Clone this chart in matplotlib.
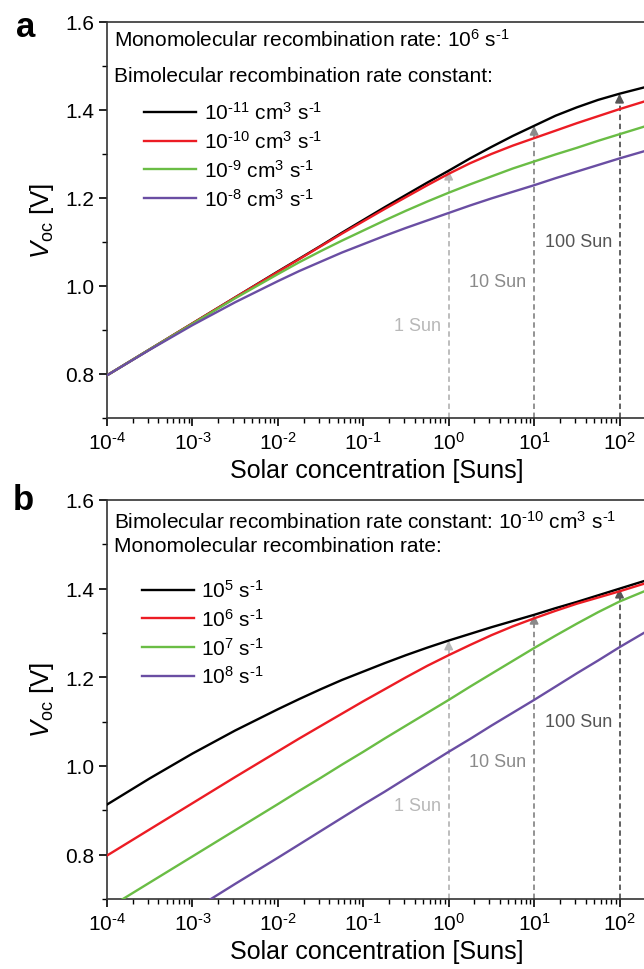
import matplotlib

matplotlib.use("Agg")
import math

import matplotlib.pyplot as plt
from matplotlib.ticker import FuncFormatter, LogLocator, MultipleLocator, NullFormatter

plt.rcParams["font.family"] = ["Liberation Sans", "DejaVu Sans"]
plt.rcParams["mathtext.fontset"] = "custom"
plt.rcParams["mathtext.rm"] = "Liberation Sans"
plt.rcParams["mathtext.it"] = "Liberation Sans:italic"
plt.rcParams["mathtext.bf"] = "Liberation Sans:bold"
plt.rcParams["mathtext.default"] = "regular"

# solar concentration (Suns): half decades at the low end, quarter decades above 1e-2
suns = [1e-4, 3.16e-4, 1e-3, 3.16e-3,
        1e-2, 1.78e-2, 3.16e-2, 5.62e-2,
        0.1, 0.178, 0.316, 0.562,
        1, 1.78, 3.16, 5.62,
        10, 17.8, 31.6, 56.2,
        100, 200]

# panel a: monomolecular rate 1e6 s^-1, varying bimolecular constant
voc_a = {
    "k2_1e-11": [0.797, 0.856, 0.915, 0.974, 1.033, 1.062, 1.091, 1.121, 1.150, 1.179, 1.207, 1.235,
                 1.262, 1.290, 1.316, 1.341, 1.364, 1.387, 1.406, 1.423, 1.437, 1.452],
    "k2_1e-10": [0.797, 0.856, 0.915, 0.974, 1.032, 1.061, 1.090, 1.119, 1.147, 1.175, 1.202, 1.229,
                 1.255, 1.279, 1.300, 1.319, 1.336, 1.353, 1.370, 1.386, 1.402, 1.420],
    "k2_1e-9": [0.797, 0.856, 0.914, 0.972, 1.027, 1.054, 1.079, 1.103, 1.126, 1.149, 1.171, 1.192,
                1.212, 1.231, 1.249, 1.267, 1.283, 1.299, 1.314, 1.330, 1.345, 1.363],
    "k2_1e-8": [0.797, 0.855, 0.911, 0.963, 1.011, 1.034, 1.055, 1.076, 1.095, 1.114, 1.132, 1.149,
                1.166, 1.183, 1.199, 1.214, 1.229, 1.245, 1.260, 1.275, 1.290, 1.307],
}
labels_a = [
    r"$10^{\text{-}11}$ cm$^{3}$ s$^{\text{-}1}$",
    r"$10^{\text{-}10}$ cm$^{3}$ s$^{\text{-}1}$",
    r"$10^{\text{-}9}$ cm$^{3}$ s$^{\text{-}1}$",
    r"$10^{\text{-}8}$ cm$^{3}$ s$^{\text{-}1}$",
]
header_a = [
    r"Monomolecular recombination rate: $10^{6}$ s$^{\text{-}1}$",
    "Bimolecular recombination rate constant:",
]

# panel b: bimolecular constant 1e-10 cm^3 s^-1, varying monomolecular rate
voc_b = {
    "k1_1e5": [0.913, 0.972, 1.028, 1.080, 1.128, 1.151, 1.173, 1.194, 1.213, 1.232, 1.250, 1.267,
               1.283, 1.298, 1.313, 1.327, 1.341, 1.356, 1.370, 1.385, 1.400, 1.418],
    "k1_1e6": [0.798, 0.857, 0.916, 0.975, 1.033, 1.062, 1.090, 1.118, 1.146, 1.173, 1.200, 1.226,
               1.250, 1.273, 1.295, 1.315, 1.333, 1.350, 1.366, 1.380, 1.394, 1.412],
    "k1_1e7": [0.678, 0.737, 0.796, 0.855, 0.914, 0.944, 0.973, 1.003, 1.032, 1.062, 1.091, 1.120,
               1.149, 1.179, 1.208, 1.237, 1.266, 1.294, 1.321, 1.347, 1.371, 1.395],
    "k1_1e8": [0.556, 0.615, 0.674, 0.734, 0.793, 0.823, 0.853, 0.883, 0.913, 0.942, 0.972, 1.002,
               1.032, 1.061, 1.091, 1.120, 1.149, 1.179, 1.209, 1.238, 1.268, 1.302],
}
labels_b = [
    r"$10^{5}$ s$^{\text{-}1}$",
    r"$10^{6}$ s$^{\text{-}1}$",
    r"$10^{7}$ s$^{\text{-}1}$",
    r"$10^{8}$ s$^{\text{-}1}$",
]
header_b = [
    r"Bimolecular recombination rate constant: $10^{\text{-}10}$ cm$^{3}$ s$^{\text{-}1}$",
    "Monomolecular recombination rate:",
]

colors = ["#000000", "#ec1c24", "#6abd45", "#6a4ea3"]

# concentration markers
marker_suns = [1, 10, 100]
marker_text = ["1 Sun", "10 Sun", "100 Sun"]
marker_text_v = [0.91, 1.01, 1.10]
marker_colors = ["#b8b8b8", "#8a8a8a", "#555555"]


def decade_label(value, _pos):
    exp = int(round(math.log10(value)))
    sign = r"\text{-}" if exp < 0 else ""
    return rf"$10^{{{sign}{abs(exp)}}}$"


def draw_panel(ax, curves, labels, header, header_y, legend_anchor):
    for (_name, values), color, label in zip(curves.items(), colors, labels):
        ax.plot(suns, values, color=color, lw=1.7, label=label, zorder=3)

    top = list(curves.values())[0]
    for s, txt, ty, c in zip(marker_suns, marker_text, marker_text_v, marker_colors):
        tip = top[suns.index(s)]
        ax.plot([s, s], [0.7, tip - 0.015], color=c, lw=1.3, ls=(0, (3, 2)), zorder=2)
        ax.annotate("", xy=(s, tip), xytext=(s, tip - 0.02),
                    arrowprops=dict(arrowstyle="-|>", color=c, lw=1.2,
                                    mutation_scale=13, shrinkA=0, shrinkB=0),
                    zorder=2)
        ax.text(s * 10 ** -0.09, ty, txt, color=c, fontsize=13, ha="right", va="center")

    for line, y in zip(header, header_y):
        ax.text(0.013, y, line, transform=ax.transAxes, fontsize=15, va="center")

    ax.legend(loc="upper left", bbox_to_anchor=legend_anchor, frameon=False,
              fontsize=15, handlelength=2.5, handletextpad=0.35, labelspacing=0.33,
              borderpad=0, borderaxespad=0)

    ax.set_xscale("log")
    ax.set_xlim(1e-4, 10 ** 2.31)
    ax.set_ylim(0.7, 1.6)
    ax.xaxis.set_major_locator(LogLocator(base=10, numticks=12))
    ax.xaxis.set_major_formatter(FuncFormatter(decade_label))
    ax.xaxis.set_minor_locator(LogLocator(base=10, subs=range(2, 10), numticks=12))
    ax.xaxis.set_minor_formatter(NullFormatter())
    ax.yaxis.set_major_locator(MultipleLocator(0.2))
    ax.yaxis.set_minor_locator(MultipleLocator(0.1))
    ax.yaxis.set_major_formatter(plt.FormatStrFormatter("%.1f"))
    ax.tick_params(which="major", direction="out", length=6, width=1.2, labelsize=15, pad=3)
    ax.tick_params(which="minor", direction="out", length=3.5, width=1.0)
    ax.spines["right"].set_visible(False)
    for side in ("left", "bottom", "top"):
        ax.spines[side].set_linewidth(1.2)
        ax.spines[side].set_color("#333333")
    ax.set_xlabel("Solar concentration [Suns]", fontsize=18, labelpad=4)
    ax.set_ylabel(r"$\mathit{V}_{\rm oc}$ [V]", fontsize=18.5, labelpad=7)


fig = plt.figure(figsize=(6.44, 9.70), dpi=100)
ax_a = fig.add_axes([107 / 644, 1 - 419 / 970, (646 - 107) / 644, 396 / 970])
ax_b = fig.add_axes([107 / 644, 1 - 900 / 970, (646 - 107) / 644, 399 / 970])

draw_panel(ax_a, voc_a, labels_a, header_a, [0.957, 0.866], (0.069, 0.80))
draw_panel(ax_b, voc_b, labels_b, header_b, [0.947, 0.885], (0.065, 0.802))

fig.text(26 / 644, 1 - 37 / 970, "a", fontsize=25, fontweight="bold", ha="center", va="baseline")
fig.text(23 / 644, 1 - 510 / 970, "b", fontsize=25, fontweight="bold", ha="center", va="baseline")

fig.savefig("out.png", dpi=100)
plt.close(fig)
